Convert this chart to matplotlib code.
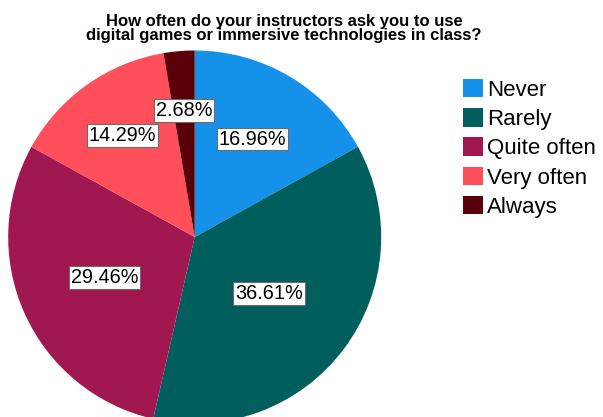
import matplotlib
matplotlib.use("Agg")
import numpy as np
import matplotlib.pyplot as plt
from matplotlib.patches import Patch

plt.rcParams["font.family"] = ["Liberation Sans", "DejaVu Sans"]

categories = ["Never", "Rarely", "Quite often", "Very often", "Always"]
percentages = [16.96, 36.61, 29.46, 14.29, 2.68]
colors = ["#1591EA", "#005E5C", "#A0184F", "#FF4F5B", "#5A0008"]
title = "How often do your instructors ask you to use\ndigital games or immersive technologies in class?"

# radial position of each percentage box (fraction of radius)
label_r = [0.61, 0.50, 0.53, 0.67, 0.68]

W, H = 603, 417
fig = plt.figure(figsize=(W / 100, H / 100), dpi=100)

# pie bounding box in pixels: left 8, right 381, top 51
cx, cy, r = 194.7, 237.0, 186.5
ax = fig.add_axes([(cx - r) / W, (H - cy - r) / H, 2 * r / W, 2 * r / H])
wedges, _ = ax.pie(percentages, colors=colors, startangle=90, counterclock=False,
                   radius=1.0, wedgeprops=dict(linewidth=0))
ax.set_xlim(-1, 1)
ax.set_ylim(-1, 1)
ax.set_aspect("auto")
ax.axis("off")
for w in wedges:
    w.set_clip_on(False)

for w, pct, lr in zip(wedges, percentages, label_r):
    ang = np.deg2rad((w.theta1 + w.theta2) / 2)
    ax.text(lr * np.cos(ang), lr * np.sin(ang), f"{pct:.2f}%",
            ha="center", va="center", fontsize=14.3, color="black",
            bbox=dict(boxstyle="square,pad=0.1", facecolor="white",
                      edgecolor="#6b6b6b", linewidth=0.8))

fig.text(284 / W, 1 - 14 / H, title, ha="center", va="top",
         fontsize=12, fontweight="bold", linespacing=0.88)

handles = [Patch(facecolor=c, edgecolor="none") for c in colors]
fig.legend(handles, categories, loc="upper left",
           bbox_to_anchor=(463 / W, 1 - 79 / H), frameon=False,
           fontsize=16, handlelength=0.9, handleheight=0.9,
           handletextpad=0.18, labelspacing=0.33, borderpad=0,
           borderaxespad=0)

fig.savefig("out.png", dpi=100)
